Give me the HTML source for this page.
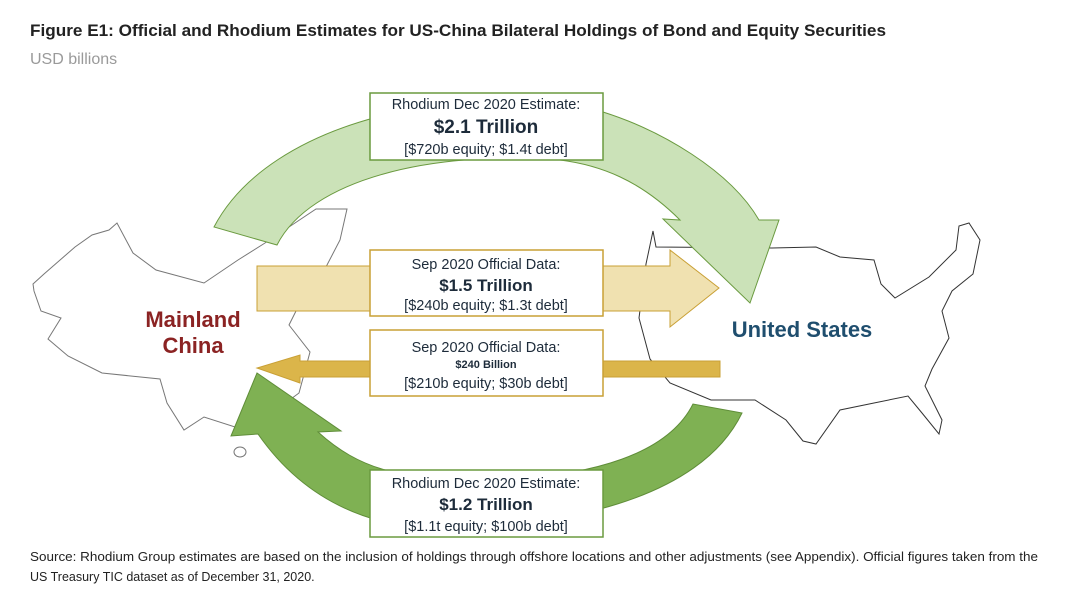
<!DOCTYPE html>
<html><head><meta charset="utf-8"><style>
body{margin:0;background:#fff;}
svg{display:block;font-family:"Liberation Sans",sans-serif;}
</style></head><body>
<svg width="1068" height="614" viewBox="0 0 1068 614" xmlns="http://www.w3.org/2000/svg">
<rect width="1068" height="614" fill="#fff"/>
<text x="30" y="36" font-size="17" font-weight="bold" fill="#222" textLength="856" lengthAdjust="spacingAndGlyphs">Figure E1: Official and Rhodium Estimates for US-China Bilateral Holdings of Bond and Equity Securities</text>
<text x="30" y="64" font-size="16" fill="#9a9a9a">USD billions</text>

<!-- China outline -->
<polygon fill="#fff" stroke="#777" stroke-width="1" points="33,284 44,274 75,247 92,235 109,230 117,223 133,253 156,270 204,283 238,260 265,243 316,209 347,209 340,240 327,265 296,311 289,325 310,352 299,393 272,413 235,427 204,417 184,430 167,403 160,379 102,373 68,356 48,339 61,318 41,311 34,291"/>
<ellipse cx="240" cy="452" rx="6" ry="5" fill="#fff" stroke="#777"/>
<!-- US outline -->
<polygon fill="#fff" stroke="#333" stroke-width="1" points="653,231 656,247 772,248 816,247 840,257 874,260 881,284 895,298 929,277 956,250 959,226 969,223 980,240 973,274 952,291 942,311 949,338 932,369 925,386 942,420 939,434 922,413 908,396 874,403 840,410 816,444 803,441 786,420 755,400 711,400 670,383 650,359 639,318 646,264"/>

<!-- top light green arrow -->
<path d="M214,227 C 270,120 460,80 603,112 C 660,130 730,170 759,220 L779,220 L750,303 L663,219 L680,220 C 640,180 600,165 560,160 C 430,150 310,180 277,245 Z" fill="#cbe2b8" stroke="#6a9a3f" stroke-width="1"/>
<!-- bottom dark green arrow -->
<path d="M742,413 C 700,500 560,530 420,528 C 340,520 290,480 258,434 L231,436 L257,373 L341,431 L318,432 C 360,470 400,478 470,480 C 600,480 670,450 693,404 Z" fill="#7fb153" stroke="#5f8d38" stroke-width="1"/>
<!-- yellow right arrow -->
<polygon points="257,266 670,266 670,250 719,288 670,327 670,311 257,311" fill="#f0e1b0" stroke="#c9a035" stroke-width="1"/>
<!-- dark yellow left arrow -->
<polygon points="720,361 300,361 300,355 257,368 300,383 300,377 720,377" fill="#dbb54a" stroke="#c9a035" stroke-width="1"/>

<!-- boxes -->
<g fill="#1d2b3a" text-anchor="middle">
<rect x="370" y="93" width="233" height="67" fill="#fff" stroke="#6a9a3f" stroke-width="1.5"/>
<text x="486" y="109" font-size="14.5">Rhodium Dec 2020 Estimate:</text>
<text x="486" y="133" font-size="19" font-weight="bold">$2.1 Trillion</text>
<text x="486" y="154" font-size="14.5">[$720b equity; $1.4t debt]</text>

<rect x="370" y="250" width="233" height="66" fill="#fff" stroke="#c9a035" stroke-width="1.5"/>
<text x="486" y="269" font-size="14.5">Sep 2020 Official Data:</text>
<text x="486" y="291" font-size="17" font-weight="bold">$1.5 Trillion</text>
<text x="486" y="310" font-size="14.5">[$240b equity; $1.3t debt]</text>

<rect x="370" y="330" width="233" height="66" fill="#fff" stroke="#c9a035" stroke-width="1.5"/>
<text x="486" y="352" font-size="14.5">Sep 2020 Official Data:</text>
<text x="486" y="368" font-size="11" font-weight="bold">$240 Billion</text>
<text x="486" y="388" font-size="14.5">[$210b equity; $30b debt]</text>

<rect x="370" y="470" width="233" height="67" fill="#fff" stroke="#6a9a3f" stroke-width="1.5"/>
<text x="486" y="488" font-size="14.5">Rhodium Dec 2020 Estimate:</text>
<text x="486" y="510" font-size="17" font-weight="bold">$1.2 Trillion</text>
<text x="486" y="531" font-size="14.5">[$1.1t equity; $100b debt]</text>
</g>

<text x="193" y="327" font-size="22" font-weight="bold" fill="#8b2323" text-anchor="middle">Mainland</text>
<text x="193" y="353" font-size="22" font-weight="bold" fill="#8b2323" text-anchor="middle">China</text>
<text x="802" y="337" font-size="22" font-weight="bold" fill="#1f4e6e" text-anchor="middle">United States</text>

<text x="30" y="561" font-size="12.5" fill="#222" textLength="1008" lengthAdjust="spacingAndGlyphs">Source: Rhodium Group estimates are based on the inclusion of holdings through offshore locations and other adjustments (see Appendix). Official figures taken from the</text>
<text x="30" y="581" font-size="12.5" fill="#222">US Treasury TIC dataset as of December 31, 2020.</text>
</svg>
</body></html>
